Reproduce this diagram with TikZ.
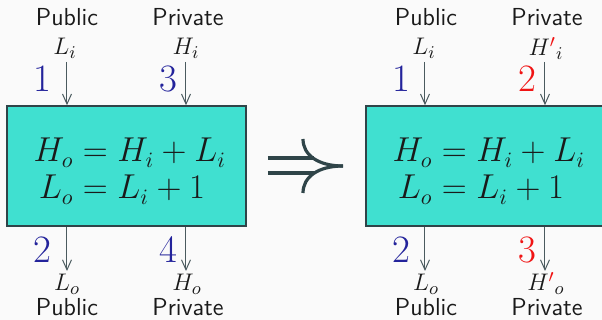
\documentclass[tikz,border=0pt]{standalone}
\usetikzlibrary{arrows.meta}
\definecolor{bgc}{HTML}{FAFAFA}
\definecolor{boxfill}{HTML}{40E0D0}
\definecolor{boxline}{HTML}{2F4448}
\definecolor{arrc}{HTML}{4A5A5E}
\definecolor{numblue}{RGB}{35,35,155}
\definecolor{numred}{RGB}{240,20,20}
\definecolor{txt}{HTML}{1A1A1A}
\begin{document}
\begin{tikzpicture}[x=0.5pt,y=-0.5pt,
  lbl/.style={inner sep=0pt,anchor=base,text=txt,font=\fontsize{12.3}{14}\selectfont\sffamily},
  var/.style={inner sep=0pt,anchor=base,text=txt,font=\fontsize{13}{15}\selectfont},
  num/.style={inner sep=0pt,anchor=base,font=\fontsize{19.4}{22}\selectfont},
  eqn/.style={inner sep=0pt,anchor=base west,text=txt,font=\fontsize{16}{19}\selectfont},
  funcbox/.style={draw=boxline,fill=boxfill,line width=0.8pt,minimum width=119.5pt,minimum height=60pt,inner sep=0pt},
  flow/.style={draw=arrc,line width=0.5pt,-{Straight Barb[length=5pt,width=4.5pt]}},
  implies/.style={draw=boxline,line width=1.6pt}
]
\fill[bgc] (0,0) rectangle (602,320);
\useasboundingbox (0,0) rectangle (602,320);

% ---------- left box ----------
\node[funcbox] (boxL) at (126.5,166) {};
\node[eqn] (eqL1) at (73,162) {\makebox[0pt][r]{$H_o$}${}=H_i+L_i$};
\node[eqn] (eqL2) at (73,199) {\makebox[0pt][r]{$L_o$}${}=L_i+1$};

\node[lbl] (pubLi) at (67,26) {Public};
\node[lbl] (priLi) at (188,26) {Private};
\node[var] (Li) at (65,55) {$L_i$};
\node[var] (Hi) at (186,55) {$H_i$};
\node[num,text=numblue] (n1L) at (42,92) {1};
\node[num,text=numblue] (n3L) at (168,92) {3};
\coordinate (inLa) at (67,62);
\coordinate (inLb) at (186,62);
\draw[flow] (inLa) -- (inLa |- boxL.north);
\draw[flow] (inLb) -- (inLb |- boxL.north);

\coordinate (outLa) at (67,271);
\coordinate (outLb) at (186,271);
\draw[flow] (outLa |- boxL.south) -- (outLa);
\draw[flow] (outLb |- boxL.south) -- (outLb);
\node[num,text=numblue] (n2L) at (42,263) {2};
\node[num,text=numblue] (n4L) at (168,263) {4};
\node[var] (Lo) at (67,291) {$L_o$};
\node[var] (Ho) at (187,291) {$H_o$};
\node[lbl] (pubLo) at (67,316) {Public};
\node[lbl] (priLo) at (188,316) {Private};

% ---------- implication symbol ----------
\coordinate (tip) at (343,166);
\draw[implies] (268,158) -- (314,158);
\draw[implies] (268,173) -- (314,173);
\draw[implies] (303,139) .. controls (303,155) and (318,166) .. (tip);
\draw[implies] (303,193) .. controls (303,177) and (318,166) .. (tip);

% ---------- right box ----------
\node[funcbox] (boxR) at (485.5,166) {};
\node[eqn] (eqR1) at (432,162) {\makebox[0pt][r]{$H_o$}${}=H_i+L_i$};
\node[eqn] (eqR2) at (432,199) {\makebox[0pt][r]{$L_o$}${}=L_i+1$};

\node[lbl] (pubRi) at (426,26) {Public};
\node[lbl] (priRi) at (547,26) {Private};
\node[var] (RLi) at (424,55) {$L_i$};
\node[var] (RHi) at (546,56) {$H\textcolor{numred}{'}{}_i$};
\node[num,text=numblue] (n1R) at (401,92) {1};
\node[num,text=numred] (n2R) at (527,92) {2};
\coordinate (inRa) at (425,62);
\coordinate (inRb) at (545,62);
\draw[flow] (inRa) -- (inRa |- boxR.north);
\draw[flow] (inRb) -- (inRb |- boxR.north);

\coordinate (outRa) at (425,271);
\coordinate (outRb) at (545,271);
\draw[flow] (outRa |- boxR.south) -- (outRa);
\draw[flow] (outRb |- boxR.south) -- (outRb);
\node[num,text=numblue] (n2R2) at (401,263) {2};
\node[num,text=numred] (n3R) at (527,263) {3};
\node[var] (RLo) at (426,291) {$L_o$};
\node[var] (RHo) at (546,291) {$H\textcolor{numred}{'}{}_o$};
\node[lbl] (pubRo) at (426,316) {Public};
\node[lbl] (priRo) at (547,316) {Private};
\end{tikzpicture}
\end{document}
